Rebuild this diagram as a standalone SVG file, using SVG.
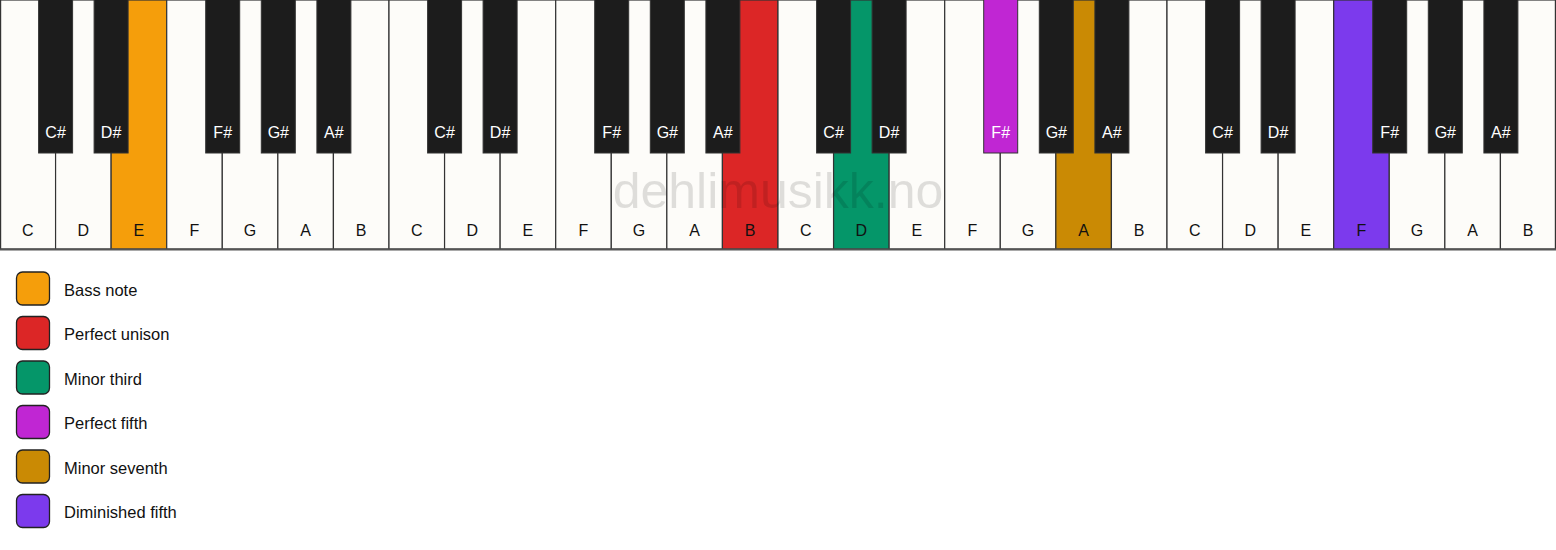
<svg xmlns="http://www.w3.org/2000/svg" width="1556" height="550" viewBox="0 0 1556 550">
<style>
.w{fill:#fdfcf9;stroke:#333;stroke-width:1.2}
.b{fill:#1c1c1c;stroke:#333;stroke-width:1}
.wl{font-family:"Liberation Sans",Arial,sans-serif;font-size:16px;fill:#111;text-anchor:middle}
.bl{font-family:"Liberation Sans",Arial,sans-serif;font-size:16px;fill:#fff;text-anchor:middle}
.lg{stroke:#222;stroke-width:1.3}
.lt{font-family:"Liberation Sans",Arial,sans-serif;font-size:16.5px;fill:#111}
</style>
<rect width="1556" height="550" fill="#fff"/>
<g id="white-keys">
<g id="o1">
<rect class="w" x="0.6" y="0" width="55.57" height="249"/><text class="wl" x="27.8" y="236">C</text>
<rect class="w" x="55.57" y="0" width="55.57" height="249"/><text class="wl" x="83.4" y="236">D</text>
<rect class="w" x="111.14" y="0" width="55.57" height="249" style="fill:#f59e0b"/><text class="wl" x="138.9" y="236">E</text>
<rect class="w" x="166.71" y="0" width="55.57" height="249"/><text class="wl" x="194.5" y="236">F</text>
<rect class="w" x="222.28" y="0" width="55.57" height="249"/><text class="wl" x="250.1" y="236">G</text>
<rect class="w" x="277.85" y="0" width="55.57" height="249"/><text class="wl" x="305.6" y="236">A</text>
<rect class="w" x="333.42" y="0" width="55.57" height="249"/><text class="wl" x="361.2" y="236">B</text>
</g>
<g id="o2">
<rect class="w" x="389" y="0" width="55.57" height="249"/><text class="wl" x="416.8" y="236">C</text>
<rect class="w" x="444.57" y="0" width="55.57" height="249"/><text class="wl" x="472.4" y="236">D</text>
<rect class="w" x="500.14" y="0" width="55.57" height="249"/><text class="wl" x="527.9" y="236">E</text>
<rect class="w" x="555.71" y="0" width="55.57" height="249"/><text class="wl" x="583.5" y="236">F</text>
<rect class="w" x="611.28" y="0" width="55.57" height="249"/><text class="wl" x="639.1" y="236">G</text>
<rect class="w" x="666.85" y="0" width="55.57" height="249"/><text class="wl" x="694.6" y="236">A</text>
<rect class="w" x="722.42" y="0" width="55.57" height="249" style="fill:#dc2626"/><text class="wl" x="750.2" y="236">B</text>
</g>
<g id="o3">
<rect class="w" x="778" y="0" width="55.57" height="249"/><text class="wl" x="805.8" y="236">C</text>
<rect class="w" x="833.57" y="0" width="55.57" height="249" style="fill:#059669"/><text class="wl" x="861.4" y="236">D</text>
<rect class="w" x="889.14" y="0" width="55.57" height="249"/><text class="wl" x="916.9" y="236">E</text>
<rect class="w" x="944.71" y="0" width="55.57" height="249"/><text class="wl" x="972.5" y="236">F</text>
<rect class="w" x="1000.28" y="0" width="55.57" height="249"/><text class="wl" x="1028.1" y="236">G</text>
<rect class="w" x="1055.85" y="0" width="55.57" height="249" style="fill:#ca8a04"/><text class="wl" x="1083.6" y="236">A</text>
<rect class="w" x="1111.42" y="0" width="55.57" height="249"/><text class="wl" x="1139.2" y="236">B</text>
</g>
<g id="o4">
<rect class="w" x="1167" y="0" width="55.57" height="249"/><text class="wl" x="1194.8" y="236">C</text>
<rect class="w" x="1222.57" y="0" width="55.57" height="249"/><text class="wl" x="1250.4" y="236">D</text>
<rect class="w" x="1278.14" y="0" width="55.57" height="249"/><text class="wl" x="1305.9" y="236">E</text>
<rect class="w" x="1333.71" y="0" width="55.57" height="249" style="fill:#7c3aed"/><text class="wl" x="1361.5" y="236">F</text>
<rect class="w" x="1389.28" y="0" width="55.57" height="249"/><text class="wl" x="1417.1" y="236">G</text>
<rect class="w" x="1444.85" y="0" width="55.57" height="249"/><text class="wl" x="1472.6" y="236">A</text>
<rect class="w" x="1500.42" y="0" width="54.98" height="249"/><text class="wl" x="1528.2" y="236">B</text>
</g>
<line x1="0" y1="249.5" x2="1556" y2="249.5" stroke="#555" stroke-width="2"/>
</g>
<text x="778" y="208" font-family="Liberation Sans,Arial,sans-serif" font-size="50" fill="#000" fill-opacity="0.12" text-anchor="middle">dehlimusikk.no</text>
<g id="black-keys">
<rect class="b" x="38.6" y="-1" width="34" height="154"/><text class="bl" x="55.6" y="138">C#</text>
<rect class="b" x="94.1" y="-1" width="34" height="154"/><text class="bl" x="111.1" y="138">D#</text>
<rect class="b" x="205.7" y="-1" width="34" height="154"/><text class="bl" x="222.7" y="138">F#</text>
<rect class="b" x="261.3" y="-1" width="34" height="154"/><text class="bl" x="278.3" y="138">G#</text>
<rect class="b" x="316.9" y="-1" width="34" height="154"/><text class="bl" x="333.9" y="138">A#</text>
<rect class="b" x="427.6" y="-1" width="34" height="154"/><text class="bl" x="444.6" y="138">C#</text>
<rect class="b" x="483.1" y="-1" width="34" height="154"/><text class="bl" x="500.1" y="138">D#</text>
<rect class="b" x="594.7" y="-1" width="34" height="154"/><text class="bl" x="611.7" y="138">F#</text>
<rect class="b" x="650.3" y="-1" width="34" height="154"/><text class="bl" x="667.3" y="138">G#</text>
<rect class="b" x="705.9" y="-1" width="34" height="154"/><text class="bl" x="722.9" y="138">A#</text>
<rect class="b" x="816.6" y="-1" width="34" height="154"/><text class="bl" x="833.6" y="138">C#</text>
<rect class="b" x="872.1" y="-1" width="34" height="154"/><text class="bl" x="889.1" y="138">D#</text>
<rect class="b" x="983.7" y="-1" width="34" height="154" style="fill:#c026d3"/><text class="bl" x="1000.7" y="138">F#</text>
<rect class="b" x="1039.3" y="-1" width="34" height="154"/><text class="bl" x="1056.3" y="138">G#</text>
<rect class="b" x="1094.9" y="-1" width="34" height="154"/><text class="bl" x="1111.9" y="138">A#</text>
<rect class="b" x="1205.6" y="-1" width="34" height="154"/><text class="bl" x="1222.6" y="138">C#</text>
<rect class="b" x="1261.1" y="-1" width="34" height="154"/><text class="bl" x="1278.1" y="138">D#</text>
<rect class="b" x="1372.7" y="-1" width="34" height="154"/><text class="bl" x="1389.7" y="138">F#</text>
<rect class="b" x="1428.3" y="-1" width="34" height="154"/><text class="bl" x="1445.3" y="138">G#</text>
<rect class="b" x="1483.9" y="-1" width="34" height="154"/><text class="bl" x="1500.9" y="138">A#</text>
</g>
<g id="legend">
<g id="lg-bass"><rect class="lg" x="16.5" y="272" width="33" height="33" rx="6" fill="#f59e0b"/><text class="lt" x="64" y="295.5">Bass note</text></g>
<g id="lg-unison"><rect class="lg" x="16.5" y="316.5" width="33" height="33" rx="6" fill="#dc2626"/><text class="lt" x="64" y="340">Perfect unison</text></g>
<g id="lg-m3"><rect class="lg" x="16.5" y="361" width="33" height="33" rx="6" fill="#059669"/><text class="lt" x="64" y="384.5">Minor third</text></g>
<g id="lg-p5"><rect class="lg" x="16.5" y="405.5" width="33" height="33" rx="6" fill="#c026d3"/><text class="lt" x="64" y="429">Perfect fifth</text></g>
<g id="lg-m7"><rect class="lg" x="16.5" y="450" width="33" height="33" rx="6" fill="#ca8a04"/><text class="lt" x="64" y="473.5">Minor seventh</text></g>
<g id="lg-d5"><rect class="lg" x="16.5" y="494.5" width="33" height="33" rx="6" fill="#7c3aed"/><text class="lt" x="64" y="518">Diminished fifth</text></g>
</g>
</svg>
